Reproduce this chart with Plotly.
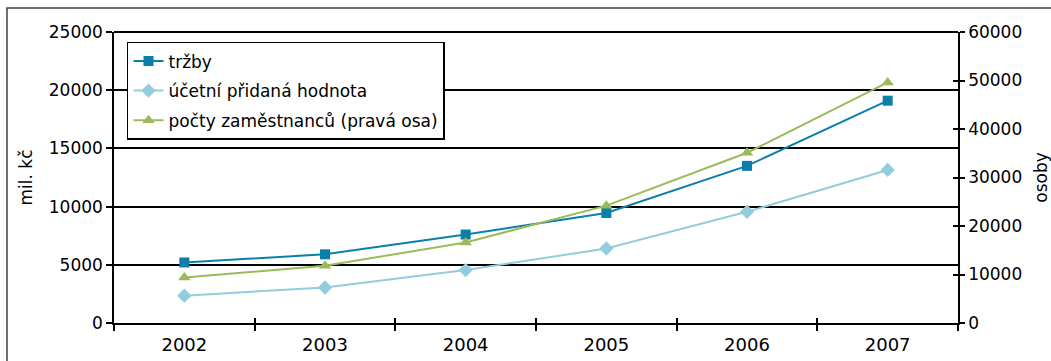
import plotly.graph_objects as go

# Data
years = ["2002", "2003", "2004", "2005", "2006", "2007"]
trzby = [5200, 5900, 7600, 9450, 13500, 19100]              # mil. Kč
pridana_hodnota = [2350, 3050, 4550, 6400, 9550, 13150]     # mil. Kč
zamestnanci = [9400, 11800, 16600, 24200, 35100, 49600]     # osoby (right axis)

names = ["tržby", "účetní přidaná hodnota", "počty zaměstnanců (pravá osa)"]
colors = ["#0A7FAA", "#93CDDD", "#9BBB59"]

FONT = "DejaVu Sans"

fig = go.Figure()
fig.add_trace(go.Scatter(
    x=years, y=trzby, name=names[0], mode="lines+markers",
    line=dict(color=colors[0], width=2),
    marker=dict(symbol="square", size=10, color=colors[0]),
    legendgroup="a"))
fig.add_trace(go.Scatter(
    x=years, y=pridana_hodnota, name=names[1], mode="lines+markers",
    line=dict(color=colors[1], width=2),
    marker=dict(symbol="diamond", size=11, color=colors[1]),
    legendgroup="b"))
fig.add_trace(go.Scatter(
    x=years, y=zamestnanci, name=names[2], mode="lines+markers",
    line=dict(color=colors[2], width=2),
    marker=dict(symbol="triangle-up", size=11, color=colors[2]),
    yaxis="y2", legendgroup="c"))
# empty trace so the tick-overlay axes get drawn
fig.add_trace(go.Scatter(x=[], y=[], xaxis="x2", yaxis="y3",
                         showlegend=False, hoverinfo="skip"))

fig.update_layout(
    width=1051, height=361,
    margin=dict(l=114, r=93, t=32, b=38, autoexpand=False),
    paper_bgcolor="white", plot_bgcolor="white",
    font=dict(family=FONT, size=17, color="#000000"),
    showlegend=True,
    legend=dict(
        x=0.0154, y=0.966, xanchor="left", yanchor="top",
        bgcolor="white", bordercolor="#000000", borderwidth=1.5,
        font=dict(family=FONT, size=17),
        tracegroupgap=4.5, traceorder="grouped",
    ),
    xaxis=dict(
        type="category", range=[-0.5, 5.5], automargin=False,
        tickson="boundaries", ticks="outside", ticklen=6, tickwidth=1.5,
        tickcolor="#000000", ticklabelstandoff=4,
        showline=True, linecolor="#000000", linewidth=2,
        showgrid=False, zeroline=False,
        tickfont=dict(size=18),
    ),
    xaxis2=dict(
        overlaying="x", anchor="y", range=[-0.5, 5.5],
        tickmode="linear", tick0=-0.5, dtick=1,
        ticks="inside", ticklen=5, tickwidth=1.5, tickcolor="#000000",
        showticklabels=False, showgrid=False, zeroline=False, showline=False,
    ),
    yaxis=dict(
        range=[0, 25000], tickmode="linear", tick0=0, dtick=5000,
        tickformat="d", automargin=False,
        ticks="outside", ticklen=6, tickwidth=1.5, tickcolor="#000000",
        showline=True, linecolor="#000000", linewidth=1.5,
        showgrid=True, gridcolor="#000000", gridwidth=2,
        zeroline=False, tickfont=dict(size=17),
        title=dict(text="mil. kč", font=dict(size=17), standoff=12),
    ),
    yaxis2=dict(
        overlaying="y", side="right", anchor="x",
        range=[0, 60000], tickmode="linear", tick0=0, dtick=10000,
        tickformat="d", automargin=False,
        ticks="outside", ticklen=5, tickwidth=1.5, tickcolor="#000000",
        showline=True, linecolor="#000000", linewidth=1.5,
        showgrid=False, zeroline=False, tickfont=dict(size=17),
        title=dict(text="osoby", font=dict(size=17), standoff=20),
    ),
    yaxis3=dict(
        overlaying="y", side="right", anchor="x2",
        range=[0, 60000], tickmode="linear", tick0=0, dtick=10000,
        ticks="inside", ticklen=5, tickwidth=1.5, tickcolor="#000000",
        showticklabels=False, showgrid=False, zeroline=False, showline=False,
    ),
    shapes=[
        # outer frame around the whole chart
        dict(type="rect", xref="paper", yref="paper",
             x0=-0.1268, x1=1.12, y0=-0.16, y1=1.0825,
             line=dict(color="#404040", width=1.5), layer="below"),
        # top edge of the plot area
        dict(type="line", xref="paper", yref="paper",
             x0=0, x1=1, y0=1, y1=1,
             line=dict(color="#000000", width=2)),
    ],
)

fig.write_html("out.html")
